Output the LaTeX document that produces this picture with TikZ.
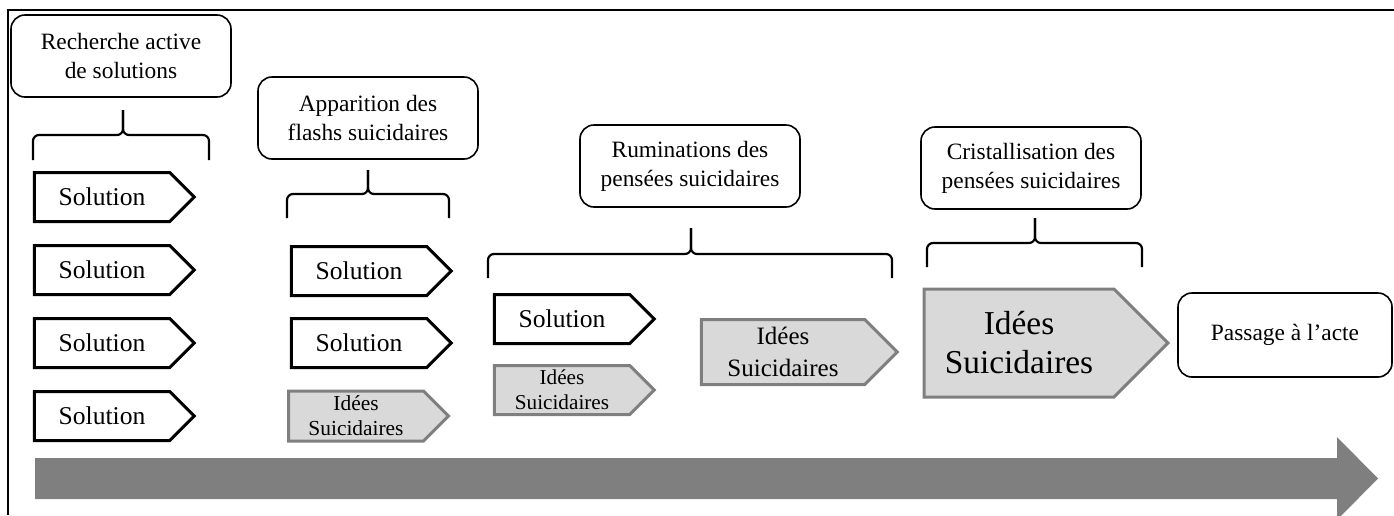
\documentclass[tikz,border=0pt]{standalone}
\usepackage{fontspec}
\setmainfont{Liberation Serif}
\usepackage{xcolor}
\usepackage{tikz}
\usetikzlibrary{shapes.symbols, positioning}

\definecolor{ideefill}{HTML}{D9D9D9}
\definecolor{ideeline}{HTML}{7F7F7F}
\newcommand{\setfs}[2]{\fontsize{#1}{#2}\selectfont}

\tikzset{
  phase/.style={draw, rounded corners=7pt, line width=0.8pt, align=center,
    minimum width=110pt, minimum height=41pt, inner sep=2pt, font=\setfs{11.7}{14.5}},
  fleche/.style={signal, signal to=east, signal pointer angle=90, line width=1.5pt,
    inner sep=1pt, align=center},
  solbox/.style={fleche, draw=black, minimum width=80pt, minimum height=24.5pt, font=\setfs{12.8}{15}},
  ideebox/.style={fleche, draw=ideeline, fill=ideefill},
  accolade/.style={line width=1.1pt, rounded corners=3pt}
}

\begin{document}
\begin{tikzpicture}[x=0.5pt, y=-0.5pt]
\useasboundingbox (0,0) rectangle (1394,515);
% cadre
\draw[line width=1.2pt] (8,515) -- (8,10) -- (1394,10);

% phases
\node[phase] (recherche) at (121,56) {Recherche active\\de solutions};
\node[phase] (apparition) at (368,118) {Apparition des\\flashs suicidaires};
\node[phase] (ruminations) at (690,166) {Ruminations des\\pens\'ees suicidaires};
\node[phase] (cristal) at (1031,168) {Cristallisation des\\pens\'ees suicidaires};

% accolades
\foreach \a/\b/\m/\t/\h/\p in {33/209/123/160/135/110, 287/449/368/218/194/170,
                                488/892/691/278/254/228, 927/1142/1035/267/243/218} {
    \draw[accolade] (\a,\t) -- (\a,\h) -- (\m,\h) -- (\m,\p);
    \draw[accolade] (\b,\t) -- (\b,\h) -- (\m,\h) -- (\m,\p);
}

% Recherche active
\foreach \y/\n in {197/1, 270/2, 343/3, 416/4} {
    \node[solbox] (sol\n) at (102,\y) {Solution};
}

% Apparition
\node[solbox] (solA) at (359,271) {Solution};
\node[solbox] (solB) at (359,343) {Solution};
\node[ideebox, minimum width=80pt, minimum height=25pt, font=\setfs{10.7}{12.5}] (ideeA) at (356,416) {Id\'ees\\Suicidaires};

% Ruminations
\node[solbox] (solC) at (562,319) {Solution};
\node[ideebox, minimum width=80pt, minimum height=24.5pt, font=\setfs{10.6}{12.5}] (ideeB) at (562,390) {Id\'ees\\Suicidaires};
\node[ideebox, minimum width=98pt, minimum height=32.5pt, font=\setfs{12.5}{16}] (ideeC) at (783,352) {Id\'ees\\Suicidaires};

% Cristallisation
\node[ideebox, minimum width=122pt, minimum height=54pt, font=\setfs{16.7}{19.5}] (ideeD) at (1019,343) {Id\'ees\\Suicidaires};

% Passage
\node[phase, minimum width=107pt, minimum height=42pt] (passage) at (1285,335) {Passage \`a l'acte};

% temps
\fill[ideeline] (35,458) -- (1337,458) -- (1337,437) -- (1378,478.5) -- (1337,520) -- (1337,499) -- (35,499) -- cycle;
\end{tikzpicture}
\end{document}
